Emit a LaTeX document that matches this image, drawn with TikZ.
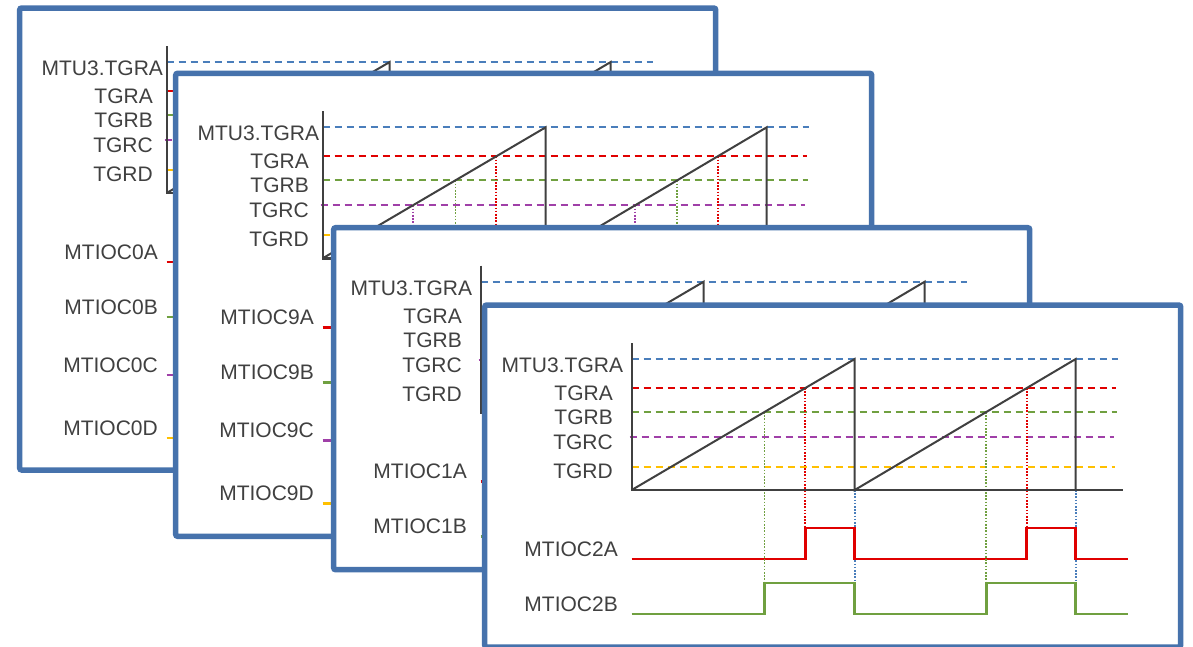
\documentclass[tikz,border=0pt]{standalone}
\usepackage{fontspec}
\setmainfont{Liberation Sans}
\usepackage{xcolor}
\usepackage{tikz}

\definecolor{frame}{HTML}{4672AC}
\definecolor{ink}{HTML}{404040}
\definecolor{tblue}{HTML}{4A7EBB}
\definecolor{tred}{HTML}{E00000}
\definecolor{tgreen}{HTML}{70A040}
\definecolor{tpurple}{HTML}{A040A8}
\definecolor{tyellow}{HTML}{FFC000}

% #1 name, #2 origin (axis corner), #3 panel bottom, #4 label shift,
% #5 channel, #6 outputs (name/colour/level/low), #7 end of period drops
\newcommand{\timingpanel}[7]{%
\begin{scope}[shift={#2}]
  \draw[panel] (-147,-185) rectangle (549,#3);
  % compare levels
  \draw[lvl, tblue] (0,-131) -- (486,-131);
  \draw[lvl, tred] (0,-102) -- (484,-102);
  \draw[lvl, tgreen] (0,-78) -- (485,-78);
  \draw[lvl, tpurple] (-2,-53) -- (482,-53);
  \draw[lvl, tyellow] (0,-23) -- (483,-23);
  % period end
  \draw[drop, tblue] (223,0) -- (223,#7);
  \draw[drop, tblue] (444,0) -- (444,#7);
  % outputs
  \foreach \chn/\clr/\lev/\low in {#6} {
    \pgfmathsetmacro{\xa}{\lev/131*223}
    \pgfmathsetmacro{\xb}{223+\lev/131*221}
    \pgfmathsetmacro{\hi}{\low-31}
    \draw[drop, \clr] (\xa,-\lev) -- (\xa,\hi);
    \draw[drop, \clr] (\xb,-\lev) -- (\xb,\hi);
    \draw[wave, \clr] (0,\low) -| (\xa,\hi) -| (223,\low) -| (\xb,\hi) -| (444,\low) -- (496,\low);
    \node[lab] (#1-out\chn) at (-13.7+#4,\low-3) {MTIOC#5\chn};
  }
  % counter
  \draw[saw] (0,0) -- (223,-131) -- (223,0) -- (444,-131) -- (444,0);
  \draw[axis] (0,-147) -- (0,0) -- (491,0);
  % labels
  \node[lab] (#1-mtu) at (-8.5+#4,-117.5) {MTU3.TGRA};
  \node[lab] (#1-tgra) at (-18.7+#4,-89.5) {TGRA};
  \node[lab] (#1-tgrb) at (-18.7+#4,-65.5) {TGRB};
  \node[lab] (#1-tgrc) at (-18.7+#4,-40.5) {TGRC};
  \node[lab] (#1-tgrd) at (-18.7+#4,-11.5) {TGRD};
\end{scope}}

\begin{document}
\begin{tikzpicture}[
  x=1pt, y=-1pt,
  panel/.style={draw=frame, line width=5.5pt, fill=white, rounded corners=2pt},
  axis/.style={draw=ink, line width=2.4pt},
  saw/.style={draw=ink, line width=2pt},
  lvl/.style={line width=2.1pt, dash pattern=on 7pt off 5pt},
  drop/.style={line width=1.9pt, dash pattern=on 1.6pt off 1.6pt},
  wave/.style={line width=2.6pt},
  lab/.style={font=\fontsize{21}{25}\selectfont, text=ink, inner sep=0pt, anchor=base east}
]
\useasboundingbox (0,0) rectangle (1193,646);

% Panels, back to front
\timingpanel{p1}{(166.7,193)}{277}{5}{0}{A/tred/102/69, B/tgreen/78/124, C/tpurple/53/182, D/tyellow/23/245}{214}
\timingpanel{p2}{(322.7,258.3)}{278}{5}{9}{A/tred/102/69, B/tgreen/78/124, C/tpurple/53/182, D/tyellow/23/245}{214}
\timingpanel{p3}{(480.7,412.7)}{157}{0}{1}{A/tred/102/69, B/tgreen/78/124}{93}
\timingpanel{p4}{(631.7,490)}{157}{0}{2}{A/tred/102/69, B/tgreen/78/124}{93}

\end{tikzpicture}
\end{document}
